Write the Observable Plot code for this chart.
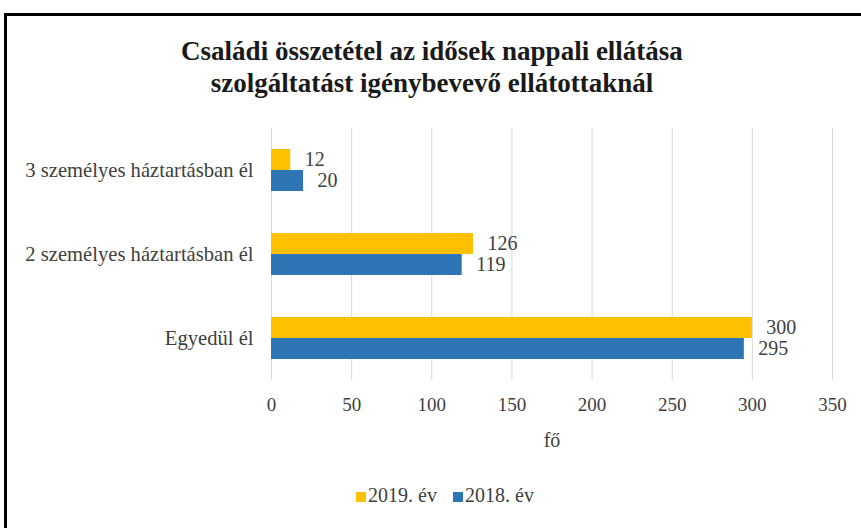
<!DOCTYPE html>
<html>
<head>
<meta charset="utf-8">
<script src="https://cdn.jsdelivr.net/npm/d3@7"></script>
<script src="https://cdn.jsdelivr.net/npm/@observablehq/plot@0.6"></script>
<style>
  html, body { margin: 0; padding: 0; background: #fff; width: 861px; height: 528px; overflow: hidden; }
  body { position: relative; font-family: "Liberation Serif", "DejaVu Serif", serif; }
  #frame { position: absolute; left: 4px; top: 13px; width: 900px; height: 600px; border-left: 3px solid #000; border-top: 3px solid #000; box-sizing: border-box; }
  #title { position: absolute; left: 0; width: 864px; top: 35px; text-align: center; font-weight: bold; font-size: 27px; line-height: 32px; color: #1a1a1a; }
  #chart { position: absolute; left: 0; top: 0; }
  #xlabel { position: absolute; left: 452px; width: 200px; top: 427px; text-align: center; font-size: 20px; line-height: 26px; color: #404040; }
  #legend { position: absolute; left: 0; width: 890px; top: 482px; text-align: center; font-size: 20px; line-height: 26px; color: #404040; }
  .item { display: inline-block; margin: 0 8px; }
  .sw { display: inline-block; width: 10px; height: 10px; margin-right: 2px; vertical-align: 0px; }
</style>
</head>
<body>
<div id="frame"></div>
<div id="title">Családi összetétel az idősek nappali ellátása<br>szolgáltatást igénybevevő ellátottaknál</div>
<div id="chart"></div>
<div id="xlabel">fő</div>
<div id="legend"></div>
<script>
const categories = ["3 személyes háztartásban él", "2 személyes háztartásban él", "Egyedül él"];
const series = ["2019. év", "2018. év"];
const values2019 = [12, 126, 300];
const values2018 = [20, 119, 295];
const xTicks = [0, 50, 100, 150, 200, 250, 300, 350];
const colors = ["#FFC000", "#2E75B6"];

const data = categories.flatMap((c, i) => [
  {cat: c, series: series[0], value: values2019[i]},
  {cat: c, series: series[1], value: values2018[i]}
]);

const chart = Plot.plot({
  width: 861,
  height: 528,
  marginTop: 127,
  marginBottom: 148,
  marginLeft: 271,
  marginRight: 29,
  style: {fontFamily: "'Liberation Serif'", fontSize: "19px", color: "#404040", background: "transparent", overflow: "visible"},
  x: {domain: [0, 350], ticks: xTicks, tickSize: 0, tickPadding: 17, label: null, tickFormat: d => String(d)},
  fy: {domain: categories, padding: 0, label: null, tickSize: 0, tickPadding: 18, axis: "left"},
  y: {domain: series, paddingInner: 0, paddingOuter: 1, axis: null},
  color: {domain: series, range: colors},
  marks: [
    Plot.gridX(xTicks, {stroke: "#d9d9d9", strokeOpacity: 1, strokeWidth: 1}),
    Plot.barX(data, {fy: "cat", y: "series", x: "value", fill: "series"}),
    Plot.text(data, {fy: "cat", y: "series", x: "value", text: d => String(d.value), dx: 14, textAnchor: "start", fontSize: 20, fill: "#404040"})
  ]
});
chart.querySelectorAll('g[aria-label="fy-axis tick label"]').forEach(g => {
  g.setAttribute("font-size", "20.6");
  g.querySelectorAll("text").forEach(t => t.setAttribute("font-size", "20.6"));
});
document.getElementById("chart").appendChild(chart);

const legend = document.getElementById("legend");
series.forEach((s, i) => {
  const item = document.createElement("span");
  item.className = "item";
  const sw = document.createElement("span");
  sw.className = "sw";
  sw.style.background = colors[i];
  item.appendChild(sw);
  item.appendChild(document.createTextNode(s));
  legend.appendChild(item);
});
</script>
</body>
</html>
